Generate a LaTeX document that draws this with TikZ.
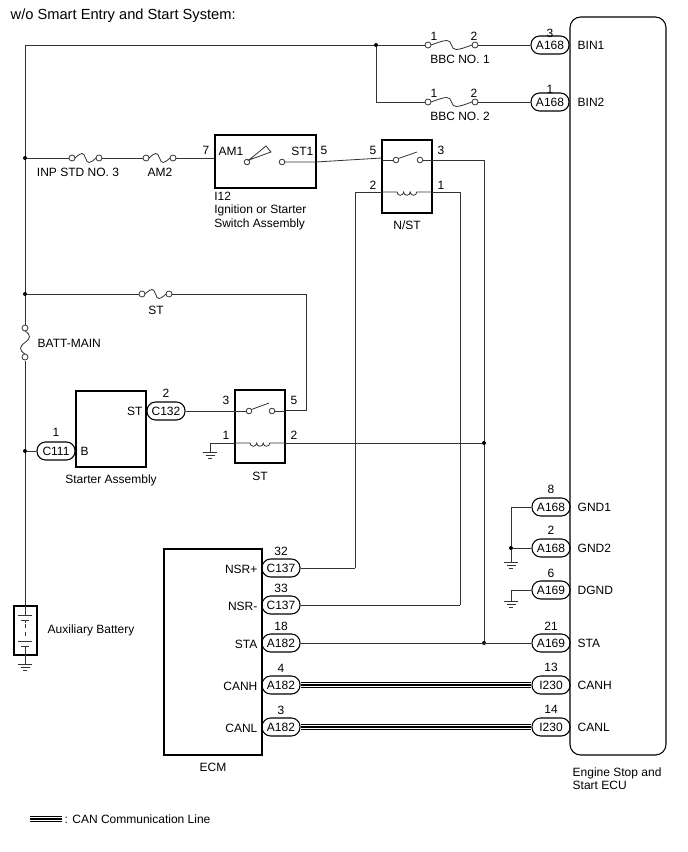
\documentclass[tikz,border=0pt]{standalone}
\usepackage{fontspec}
\setmainfont{Liberation Sans}
\begin{document}
\begin{tikzpicture}[x=0.75pt,y=-0.75pt,font=\fontsize{9}{10}\selectfont,
 wire/.style={draw=black!80,line width=0.6pt},
 conn/.style={draw,thick,rounded corners=6.5pt,minimum width=28.5pt,minimum height=13.5pt,inner sep=0pt},
 box/.style={draw,thick},
 lbl/.style={inner sep=1pt},
 dot/.style={circle,fill,inner sep=0pt,minimum size=3pt}]
\useasboundingbox (0,0) rectangle (688,852);
\newcommand\fuse[3]{% x1 x2 y
 \draw[wire,fill=white] (#1,#3) circle (3);
 \draw[wire,fill=white] (#2,#3) circle (3);
 \draw[wire] (#1+3,#3) .. controls ({(#1+#2)/2-4},#3-6) and ({(#1+#2)/2-2},#3-6) .. ({(#1+#2)/2},#3) .. controls ({(#1+#2)/2+2},#3+6) and ({(#1+#2)/2+4},#3+6) .. (#2-3,#3);}
\newcommand\gnd[2]{\draw[wire] (#1-7,#2) -- (#1+7,#2) (#1-4.5,#2+3) -- (#1+4.5,#2+3) (#1-2,#2+6) -- (#1+2,#2+6);}
\newcommand\coil[3]{% x1 x2 y
 \draw[wire] (#1,#3) -- ({(#1+#2)/2-10},#3) arc(180:0:3.3) arc(180:0:3.3) arc(180:0:3.3) -- (#2,#3);}
\newcommand\switch[3]{% pivot x, contact x, y
 \draw[wire,fill=white] (#1,#3) circle (2.8); \draw[wire,fill=white] (#2,#3) circle (2.8);
 \draw[wire] (#1+2.5,#3-1.5) -- (#2-3,#3-8);}
% title
\node[anchor=west,font=\fontsize{11}{12}\selectfont] (title) at (6,16) {w/o Smart Entry and Start System:};
% ECU
\draw[box,rounded corners=8] (570,17) rectangle (666,755);
\node[align=left,anchor=north west] (ecu) at (568,763) {Engine Stop and\\Start ECU};
% left bus
\coordinate (tl) at (25,45);
\draw[wire] (25,45) -- (25,325); \draw[wire] (25,361) -- (25,606);
\draw[wire,fill=white] (25,328) circle (3); \draw[wire,fill=white] (25,357) circle (3);
\draw[wire] (25,331) .. controls (31,335) and (31,338) .. (25,342.5) .. controls (19,347) and (19,350) .. (25,354);
\node[anchor=west] (bm) at (33,343) {BATT-MAIN};
% battery
\draw[box] (14,606) rectangle (37,655);
\draw[wire] (25,606) -- (25,615) (18,615) -- (32,615) (21,620)--(29,620) (25,620) -- (25,623);
\draw[wire,dashed] (25,624) -- (25,640);
\draw[wire] (18,641) -- (32,641) (21,646)--(29,646) (25,646)--(25,655) (25,655) -- (25,664);
\gnd{25}{664}
\node[anchor=west] (aux) at (43,630) {Auxiliary Battery};
% top BIN wires
\node[conn] (bin1) at (550,45) {A168}; \node[lbl] at (550,33) {3}; \node[anchor=west] at (573,45) {BIN1};
\node[conn] (bin2) at (550,102) {A168}; \node[lbl] at (550,89) {1}; \node[anchor=west] at (573,102) {BIN2};
\draw[wire] (tl) -- (425,45); \draw[wire] (478,45) -- (bin1.west);
\fuse{428}{475}{45}
\node[lbl] at (434,36) {1}; \node[lbl] at (474,36) {2}; \node (bbc1) at (460,59) {BBC NO. 1};
\node[dot] (j1) at (376,45) {};
\draw[wire] (j1) -- (376,102) -- (425,102); \draw[wire] (478,102) -- (bin2.west);
\fuse{428}{475}{102}
\node[lbl] at (434,93) {1}; \node[lbl] at (474,93) {2}; \node (bbc2) at (460,116) {BBC NO. 2};
% line 158
\node[dot] (j2) at (25,158) {};
\draw[wire] (j2) -- (70,158); \fuse{72}{99}{158} \draw[wire] (102,158) -- (143,158);
\fuse{146}{173}{158} \draw[wire] (176,158) -- (215,158);
\node (inp) at (78,172) {INP STD NO. 3}; \node (am2) at (160,172) {AM2};
\draw[box] (215,135) rectangle (316,188);
\node[lbl] at (206,150) {7}; \node[anchor=west,inner sep=1pt] at (217,151) {AM1};
\node[anchor=east,inner sep=1pt] at (315,151) {ST1}; \node[lbl] at (324,150) {5};
\draw[wire,fill=white] (247,162) circle (2.8); \draw[wire,fill=white] (282,162) circle (2.8);
\draw[wire] (249,160) -- (266,146) -- (271,152) -- cycle;
\draw[wire] (285,162) -- (316,162) -- (382,158);
\node[anchor=north west,align=left,inner sep=0pt] (i12) at (214,192) {I12\\Ignition or Starter\\Switch Assembly};
% N/ST relay
\draw[box] (382,140) rectangle (432,213);
\node (nst) at (407,225) {N/ST};
\node[lbl] at (373,150) {5}; \node[lbl] at (441,150) {3}; \node[lbl] at (373,185) {2}; \node[lbl] at (441,185) {1};
\draw[wire] (382,160) -- (393,160); \switch{396}{420}{160} \draw[wire] (423,160) -- (484,160);
\coil{382}{432}{192}
\draw[wire] (382,192) -- (355,192) -- (355,568);
\draw[wire] (432,192) -- (460,192) -- (460,605);
\draw[wire] (484,160) -- (484,643);
% ST fuse line
\node[dot] (j3) at (25,294) {};
\draw[wire] (j3) -- (139,294); \fuse{142}{169}{294} \draw[wire] (172,294) -- (306,294) -- (306,410) -- (285,410);
\node (stf) at (156,310) {ST};
% starter assembly
\draw[box] (76,391) rectangle (146,467);
\node (sa) at (111,480) {Starter Assembly};
\node[anchor=east,inner sep=1pt] at (144,411) {ST}; \node[anchor=west,inner sep=1pt] at (79,451) {B};
\node[conn] (c132) at (166,411) {C132}; \node[lbl] at (166,393) {2};
\node[conn] (c111) at (56,451) {C111}; \node[lbl] at (56,432) {1};
\node[dot] (j4) at (25,451) {}; \draw[wire] (j4) -- (c111.west);
% ST relay
\draw[box] (235,390) rectangle (285,463);
\node (str) at (260,476) {ST};
\node[lbl] at (226,400) {3}; \node[lbl] at (294,400) {5}; \node[lbl] at (226,435) {1}; \node[lbl] at (294,435) {2};
\draw[wire] (c132.east) -- (246,411); \switch{249}{272}{411} \draw[wire] (275,411) -- (285,411);
\coil{235}{285}{443}
\draw[wire] (235,443) -- (210,443) -- (210,452); \gnd{210}{452}
\node[dot] (j5) at (484,443) {}; \draw[wire] (285,443) -- (j5);
% grounds right
\node[conn] (g1) at (551,507) {A168}; \node[lbl] at (551,489) {8}; \node[anchor=west] at (573,507) {GND1};
\node[conn] (g2) at (551,548) {A168}; \node[lbl] at (551,530) {2}; \node[anchor=west] at (573,548) {GND2};
\node[conn] (g3) at (551,590) {A169}; \node[lbl] at (551,573) {6}; \node[anchor=west] at (573,590) {DGND};
\node[dot] (j6) at (511,548) {};
\draw[wire] (g1.west) -- (511,507) -- (j6) -- (g2.west); \draw[wire] (j6) -- (511,562); \gnd{511}{562}
\draw[wire] (g3.west) -- (511,590) -- (511,601); \gnd{511}{601}
% ECM
\draw[box] (164,549) rectangle (262,755);
\node (ecm) at (213,767) {ECM};
\foreach \nm/\c/\pin/\sig/\y in {e1/C137/32/NSR+/568, e2/C137/33/NSR-/605, e3/A182/18/STA/643, e4/A182/4/CANH/685, e5/A182/3/CANL/727}{
 \node[conn] (\nm) at (281,\y) {\c}; \node[lbl] at (281,\y-17) {\pin};
 \node[anchor=east,inner sep=1pt] at (259,\y+1) {\sig};}
\draw[wire] (e1.east) -- (355,568); \draw[wire] (e2.east) -- (460,605);
\node[conn] (r3) at (551,643) {A169}; \node[lbl] at (551,626) {21}; \node[anchor=west] at (573,643) {STA};
\node[conn] (r4) at (551,685) {I230}; \node[lbl] at (551,667) {13}; \node[anchor=west] at (573,685) {CANH};
\node[conn] (r5) at (551,727) {I230}; \node[lbl] at (551,709) {14}; \node[anchor=west] at (573,727) {CANL};
\node[dot] (j7) at (484,643) {};
\draw[wire] (e3.east) -- (r3.west);
\foreach \a/\b in {e4/r4,e5/r5}{
 \draw[line width=5pt] (\a.east) -- (\b.west);
 \draw[white,line width=1.4pt] ([yshift=1.1pt]\a.east) -- ([yshift=1.1pt]\b.west);
 \draw[white,line width=1.4pt] ([yshift=-1.1pt]\a.east) -- ([yshift=-1.1pt]\b.west);}
% legend
\coordinate (la) at (30,819); \coordinate (lb) at (62,819);
\draw[line width=5pt] (la) -- (lb);
\draw[white,line width=1.4pt] ([yshift=1.1pt]la) -- ([yshift=1.1pt]lb);
\draw[white,line width=1.4pt] ([yshift=-1.1pt]la) -- ([yshift=-1.1pt]lb);
\node[anchor=west,inner sep=1pt] (leg) at (63,819) {: CAN Communication Line};
\end{tikzpicture}
\end{document}
